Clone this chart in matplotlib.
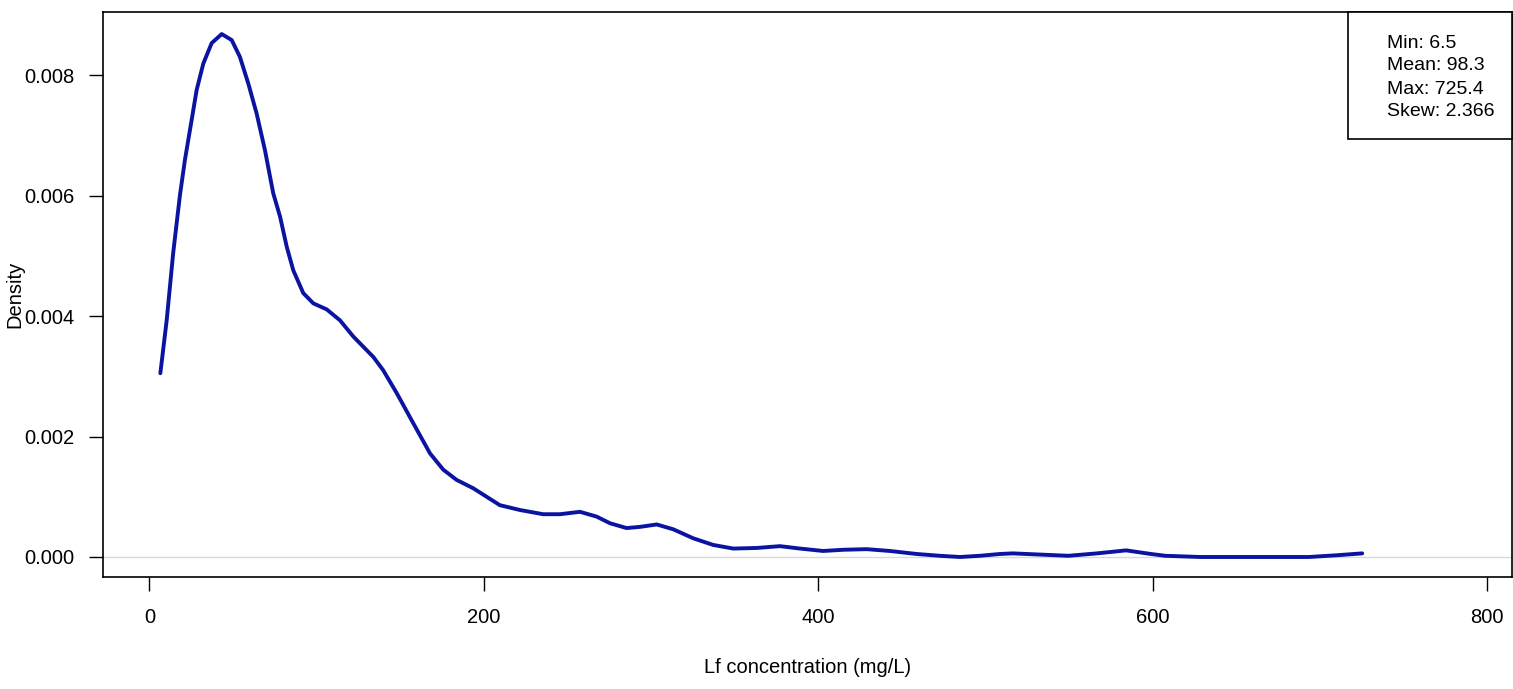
import matplotlib
matplotlib.use("Agg")
import matplotlib.pyplot as plt

plt.rcParams['font.family'] = ['Liberation Sans', 'DejaVu Sans']

# density curve
conc = [6.5, 10.3, 14.2, 18.2, 21.2, 25.2, 28.2, 32.2, 37.2, 43.2, 49.2, 54.1, 59.1, 64.1,
        69.1, 74.0, 78.1, 82.1, 86.0, 92.0, 98.0, 106.0, 113.9, 121.9, 133.9, 139.8, 147.9,
        157.8, 167.8, 175.7, 183.7, 193.7, 209.6, 221.6, 235.5, 245.5, 257.5, 267.5, 275.5,
        285.4, 293.4, 303.4, 313.3, 325.3, 337.2, 349.2, 363.2, 377.1, 389.1, 403.0, 415.0,
        429.0, 442.9, 458.9, 472.8, 484.8, 496.7, 508.7, 516.4, 533.0, 549.7, 566.7, 584.2,
        599.0, 607.6, 628.9, 660.0, 693.5, 710.8, 725.4]
density = [0.00305, 0.00393, 0.00505, 0.00600, 0.00659, 0.00725, 0.00775, 0.00819, 0.00853,
           0.00868, 0.00858, 0.00830, 0.00786, 0.00736, 0.00675, 0.00604, 0.00565, 0.00515,
           0.00476, 0.00438, 0.00421, 0.00411, 0.00393, 0.00366, 0.00332, 0.00310, 0.00272,
           0.00222, 0.00172, 0.00145, 0.00128, 0.00114, 0.00086, 0.00078, 0.00071, 0.00071,
           0.00075, 0.00067, 0.00056, 0.00048, 0.00050, 0.00054, 0.00046, 0.00031, 0.00020,
           0.00014, 0.00015, 0.00018, 0.00014, 0.00010, 0.00012, 0.00013, 0.00010, 0.00005,
           0.00002, 0.00000, 0.00002, 0.00005, 0.00006, 0.00004, 0.00002, 0.00006, 0.00011,
           0.00005, 0.00002, 0.00000, 0.00000, 0.00000, 0.00003, 0.00006]

x_ticks = [0, 200, 400, 600, 800]
y_ticks = [0.000, 0.002, 0.004, 0.006, 0.008]
y_tick_labels = ["0.000", "0.002", "0.004", "0.006", "0.008"]
stats_text = ["Min: 6.5", "Mean: 98.3", "Max: 725.4", "Skew: 2.366"]
x_label = "Lf concentration (mg/L)"
y_label = "Density"

W, H = 1513, 689
FS = 14.5
fig = plt.figure(figsize=(W / 100, H / 100), dpi=100)
ax = fig.add_axes([103 / W, (H - 577) / H, (1512 - 103) / W, (577 - 12) / H])

ax.axhline(0, color='#d9d9d9', lw=1.0, zorder=1)
ax.plot(conc, density, color='#0a14a0', lw=2.8, solid_capstyle='round',
        solid_joinstyle='round', zorder=3)

ax.set_xlim(-27.8, 815.0)
ax.set_ylim(-0.000332, 0.009046)
ax.set_xticks(x_ticks)
ax.set_xticklabels([str(v) for v in x_ticks])
ax.set_yticks(y_ticks)
ax.set_yticklabels(y_tick_labels)
ax.tick_params(axis='both', direction='out', length=9.8, width=1.0, labelsize=FS,
               colors='black')
ax.tick_params(axis='x', pad=12.5)
ax.tick_params(axis='y', pad=10.5)
for s in ax.spines.values():
    s.set_linewidth(1.2)
    s.set_color('black')

ax.set_xlabel(x_label, fontsize=FS, labelpad=22.5)
ax.set_ylabel(y_label, fontsize=FS, va='center')
ax.yaxis.set_label_coords((15 - 103) / 1409, (577 - 294) / 565)

# stats box in the top-right corner
box_left = 1348 / W
box_bottom = (H - 139) / H
fig.patches.append(plt.Rectangle((box_left, box_bottom), (1512 - 1348) / W, (139 - 12) / H,
                                 transform=fig.transFigure, fill=True, facecolor='white',
                                 edgecolor='black', lw=1.2, zorder=5))
for i, t in enumerate(stats_text):
    fig.text(1387 / W, 1 - (43 + i * 23.0) / H, t, fontsize=14.0, va='center', ha='left',
             zorder=6)

fig.savefig("out.png", dpi=100)
